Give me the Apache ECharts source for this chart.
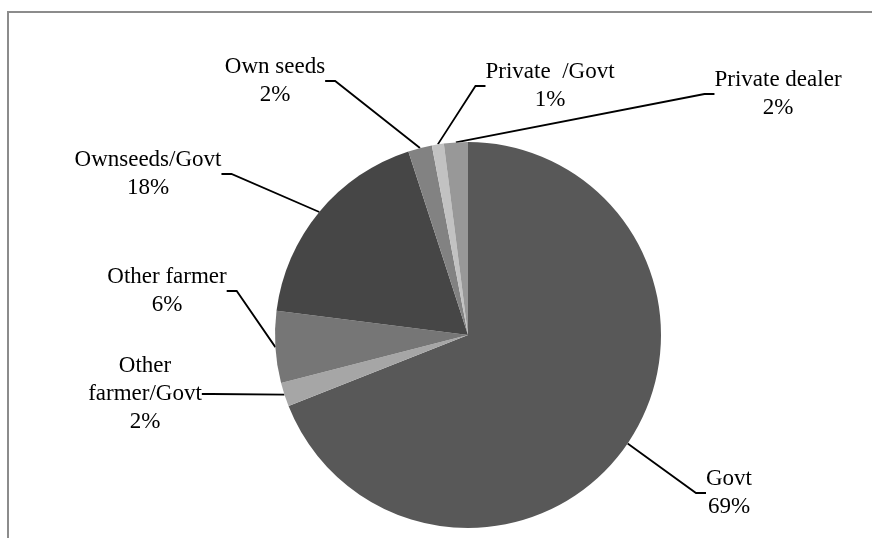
<!DOCTYPE html>
<html>
<head>
<meta charset="utf-8">
<script src="https://cdn.jsdelivr.net/npm/echarts@6/dist/echarts.min.js"></script>
<style>
  html, body { margin: 0; padding: 0; background: #fff; }
  #chartPieBox { width: 872px; height: 538px; }
</style>
</head>
<body>
<div id="chartPieBox"></div>
<script>
// 数据
var categories = ["Govt", "Other farmer/Govt", "Other farmer", "Ownseeds/Govt", "Own seeds", "Private  /Govt", "Private dealer"];
var shares = [69, 2, 6, 18, 2, 1, 2];
var labelNames = ["Govt", "Other\nfarmer/Govt", "Other farmer", "Ownseeds/Govt", "Own seeds", "Private  /Govt", "Private dealer"];

// 样式
var sliceColors = ["#585858", "#a6a6a6", "#767676", "#464646", "#828282", "#c2c2c2", "#989898"];
var labelSpots = [[729, 493], [145, 394], [167, 291], [148, 174], [275, 81], [550, 86], [778, 94]];

var chart = echarts.init(document.getElementById("chartPieBox"));

var option = {
  animation: false,
  backgroundColor: "#fff",
  graphic: [
    {
      type: "rect",
      shape: { x: 8, y: 12, width: 1000, height: 1000 },
      style: { fill: "none", stroke: "#8c8c8c", lineWidth: 2 },
      silent: true
    }
  ],
  series: [
    {
      type: "pie",
      center: [468, 335],
      radius: 193,
      startAngle: 90,
      clockwise: true,
      data: categories.map(function (n, i) {
        return { name: n, value: shares[i], itemStyle: { color: sliceColors[i] } };
      }),
      label: {
        show: true,
        formatter: function (p) {
          return labelNames[p.dataIndex] + "\n" + shares[p.dataIndex] + "%";
        },
        fontFamily: "Liberation Serif",
        fontSize: 23,
        lineHeight: 28,
        color: "#000",
        align: "center"
      },
      labelLine: {
        show: true,
        length: 20,
        length2: 10,
        lineStyle: { color: "#000", width: 1.8 }
      },
      labelLayout: function (p) {
        var s = labelSpots[p.dataIndex];
        return { x: s[0], y: s[1], align: "center", verticalAlign: "middle" };
      }
    }
  ]
};

chart.setOption(option);
</script>
</body>
</html>
